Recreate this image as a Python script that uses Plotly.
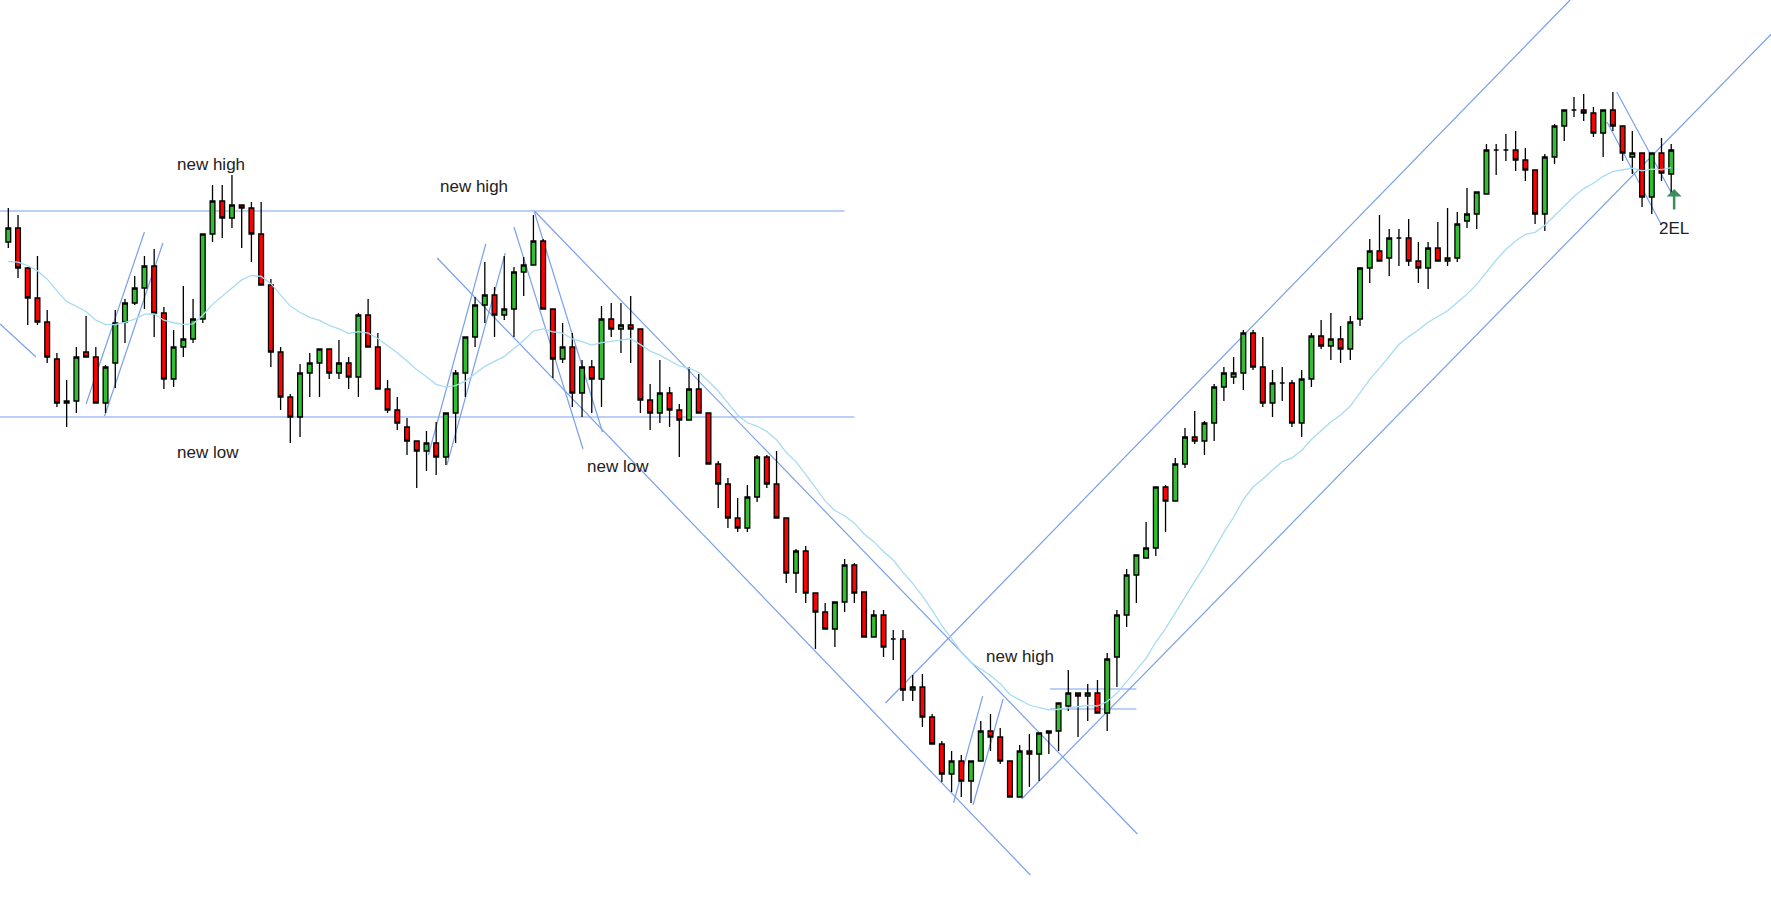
import plotly.graph_objects as go
import pandas as pd

opens = [661,675,635,605,581,544,500,502,551,546,500,540,581,600,615,637,590,524,556,564,
         584,669,702,685,698,695,669,618,551,506,486,530,540,554,530,540,526,588,556,514,
         493,476,462,452,460,446,490,530,566,598,608,588,594,631,638,662,594,544,556,510,
         536,524,584,574,578,574,503,490,510,493,483,514,490,439,419,385,375,406,446,419,
         385,330,352,310,291,274,301,338,311,266,288,264,264,213,216,186,159,129,142,122,
         142,172,166,142,106,152,149,170,172,197,210,207,210,190,246,288,328,345,355,416,
         402,439,466,462,480,516,526,530,570,536,500,520,520,480,524,567,557,564,554,584,
         635,652,645,665,665,642,635,655,642,645,682,689,709,753,753,753,743,733,689,746,
         777,793,793,790,770,793,777,746,750,706,750,729]
highs = [695,688,636,647,593,550,523,556,587,556,538,593,604,627,647,654,596,573,617,604,
         669,718,718,728,698,701,701,624,556,509,539,550,554,554,563,546,590,604,570,523,
         506,485,462,472,481,490,533,566,606,641,616,647,636,646,688,664,594,580,570,543,
         543,597,600,600,607,574,519,543,516,499,536,529,490,442,425,405,418,448,448,452,
         385,354,357,310,300,301,344,340,311,293,293,273,273,228,229,189,162,152,148,142,
         182,189,175,142,158,169,170,172,200,233,210,219,223,250,293,334,348,381,416,418,
         445,475,492,482,519,536,546,573,573,566,533,536,523,533,570,583,590,577,587,636,
         664,688,674,674,684,661,661,681,695,691,715,711,759,759,769,772,755,733,749,779,
         793,806,809,796,793,811,777,772,750,750,765,759]
lows = [655,625,578,578,540,496,476,490,546,500,490,515,560,598,594,566,514,516,546,560,
        580,661,665,675,655,641,618,536,493,460,466,506,506,524,524,514,506,556,514,490,
        473,448,415,432,428,438,460,506,556,580,566,583,566,607,638,594,525,540,496,486,
        490,496,566,550,540,490,473,480,476,446,483,490,439,395,375,371,371,401,415,385,
        320,310,300,254,274,256,291,300,266,266,246,243,202,202,176,159,121,111,106,100,
        142,152,139,106,106,116,122,149,152,192,166,182,190,172,216,276,300,345,347,371,
        402,435,459,448,462,502,519,513,533,496,486,502,476,466,516,554,543,540,543,577,
        620,642,627,637,637,620,614,642,637,641,675,674,709,728,742,732,722,679,672,739,
        762,786,782,766,746,772,742,729,696,689,722,708]
closes = [675,635,605,581,546,500,502,546,546,500,536,580,600,615,637,590,524,556,564,584,
          669,702,685,698,695,669,618,551,506,486,530,540,554,530,540,526,588,556,514,493,
          480,462,452,460,446,490,530,566,598,608,588,594,631,638,662,594,544,556,510,536,
          524,584,574,578,574,503,490,510,493,483,514,490,439,419,385,375,406,446,419,385,
          330,352,310,291,274,301,338,310,266,288,256,264,213,216,186,159,129,142,122,142,
          172,166,142,106,152,149,170,172,200,210,207,210,190,244,288,328,348,355,416,402,
          439,466,462,480,516,530,530,570,536,500,520,520,480,524,567,557,564,554,581,635,
          652,642,665,665,642,635,655,642,645,679,689,711,753,753,753,743,733,689,746,777,
          793,793,790,770,793,777,750,750,706,750,730,753]
bars = list(range(len(closes)))
ma_span = 20
ma_start = 638  # average level at the left edge

# trend lines: (bar0, price0, bar1, price1)
hlines = [(-1, 692, 86, 692), (-1, 486, 87, 486), (107.1, 214, 116, 214), (107.1, 194, 116, 194)]
tlines = [(90.2, 200, 160.6, 903), (104.2, 104, 181.3, 869), (54.1, 692, 116.1, 69),
          (44.1, 645, 105.1, 28), (-0.85, 579, 2.85, 546), (8, 499, 14, 671), (9.9, 487, 15.9, 660),
          (43.2, 448, 49.1, 659), (45.1, 438, 51.1, 650), (52, 676, 59.1, 454), (54.1, 691, 61.1, 471),
          (97.2, 100, 100.2, 207), (99.2, 98, 102.3, 204), (165.4, 811, 171.3, 705), (164.4, 781, 170, 678)]
labels = [(-3.1, 717, "new high"), (20.8, 739, "new high"), (47.9, 717, "new high"),
          (20.5, 451, "new low"), (62.7, 437, "new low"), (104, 247, "new high"), (171.3, 675, "2EL")]

ma = pd.Series([ma_start] + closes).ewm(span=ma_span, adjust=False).mean().iloc[1:].tolist()

fig = go.Figure()
fig.add_trace(go.Scatter(x=bars, y=ma, mode="lines", line=dict(color="#a6dcf2", width=1.3), hoverinfo="skip"))
fig.add_trace(go.Candlestick(
    x=bars, open=opens, high=highs, low=lows, close=closes,
    increasing=dict(fillcolor="#2fbf2f", line=dict(color="black", width=1.3)),
    decreasing=dict(fillcolor="#ff0000", line=dict(color="black", width=1.3)),
    whiskerwidth=0))

for x0, y0, x1, y1 in hlines + tlines:
    fig.add_shape(type="line", x0=x0, y0=y0, x1=x1, y1=y1, xref="x", yref="y",
                  line=dict(color="#7aa0ea", width=1.2), layer="below")

for x, y, t in labels:
    fig.add_annotation(x=x, y=y, text=t, showarrow=False, xref="x", yref="y",
                       font=dict(family="Liberation Sans, Arial", size=17, color="#222"))

fig.add_annotation(x=171.3, y=714, ax=171.3, ay=692, xref="x", yref="y", axref="x", ayref="y",
                   text="", showarrow=True, arrowhead=1, arrowsize=1, arrowwidth=2.5, arrowcolor="#3c8f5c")

fig.update_layout(width=1771, height=903, margin=dict(l=0, r=0, t=0, b=0),
                  paper_bgcolor="white", plot_bgcolor="white", showlegend=False,
                  xaxis=dict(range=[-0.853, 181.26], visible=False, rangeslider=dict(visible=False)),
                  yaxis=dict(range=[0, 903], visible=False))
fig.write_html("out.html", config={"displayModeBar": False})

with open("out.html", encoding="utf-8") as f:
    html = f.read()
html = html.replace("<head>", "<head><style>html,body{margin:0;padding:0;overflow:hidden}</style>", 1)
with open("out.html", "w", encoding="utf-8") as f:
    f.write(html)
